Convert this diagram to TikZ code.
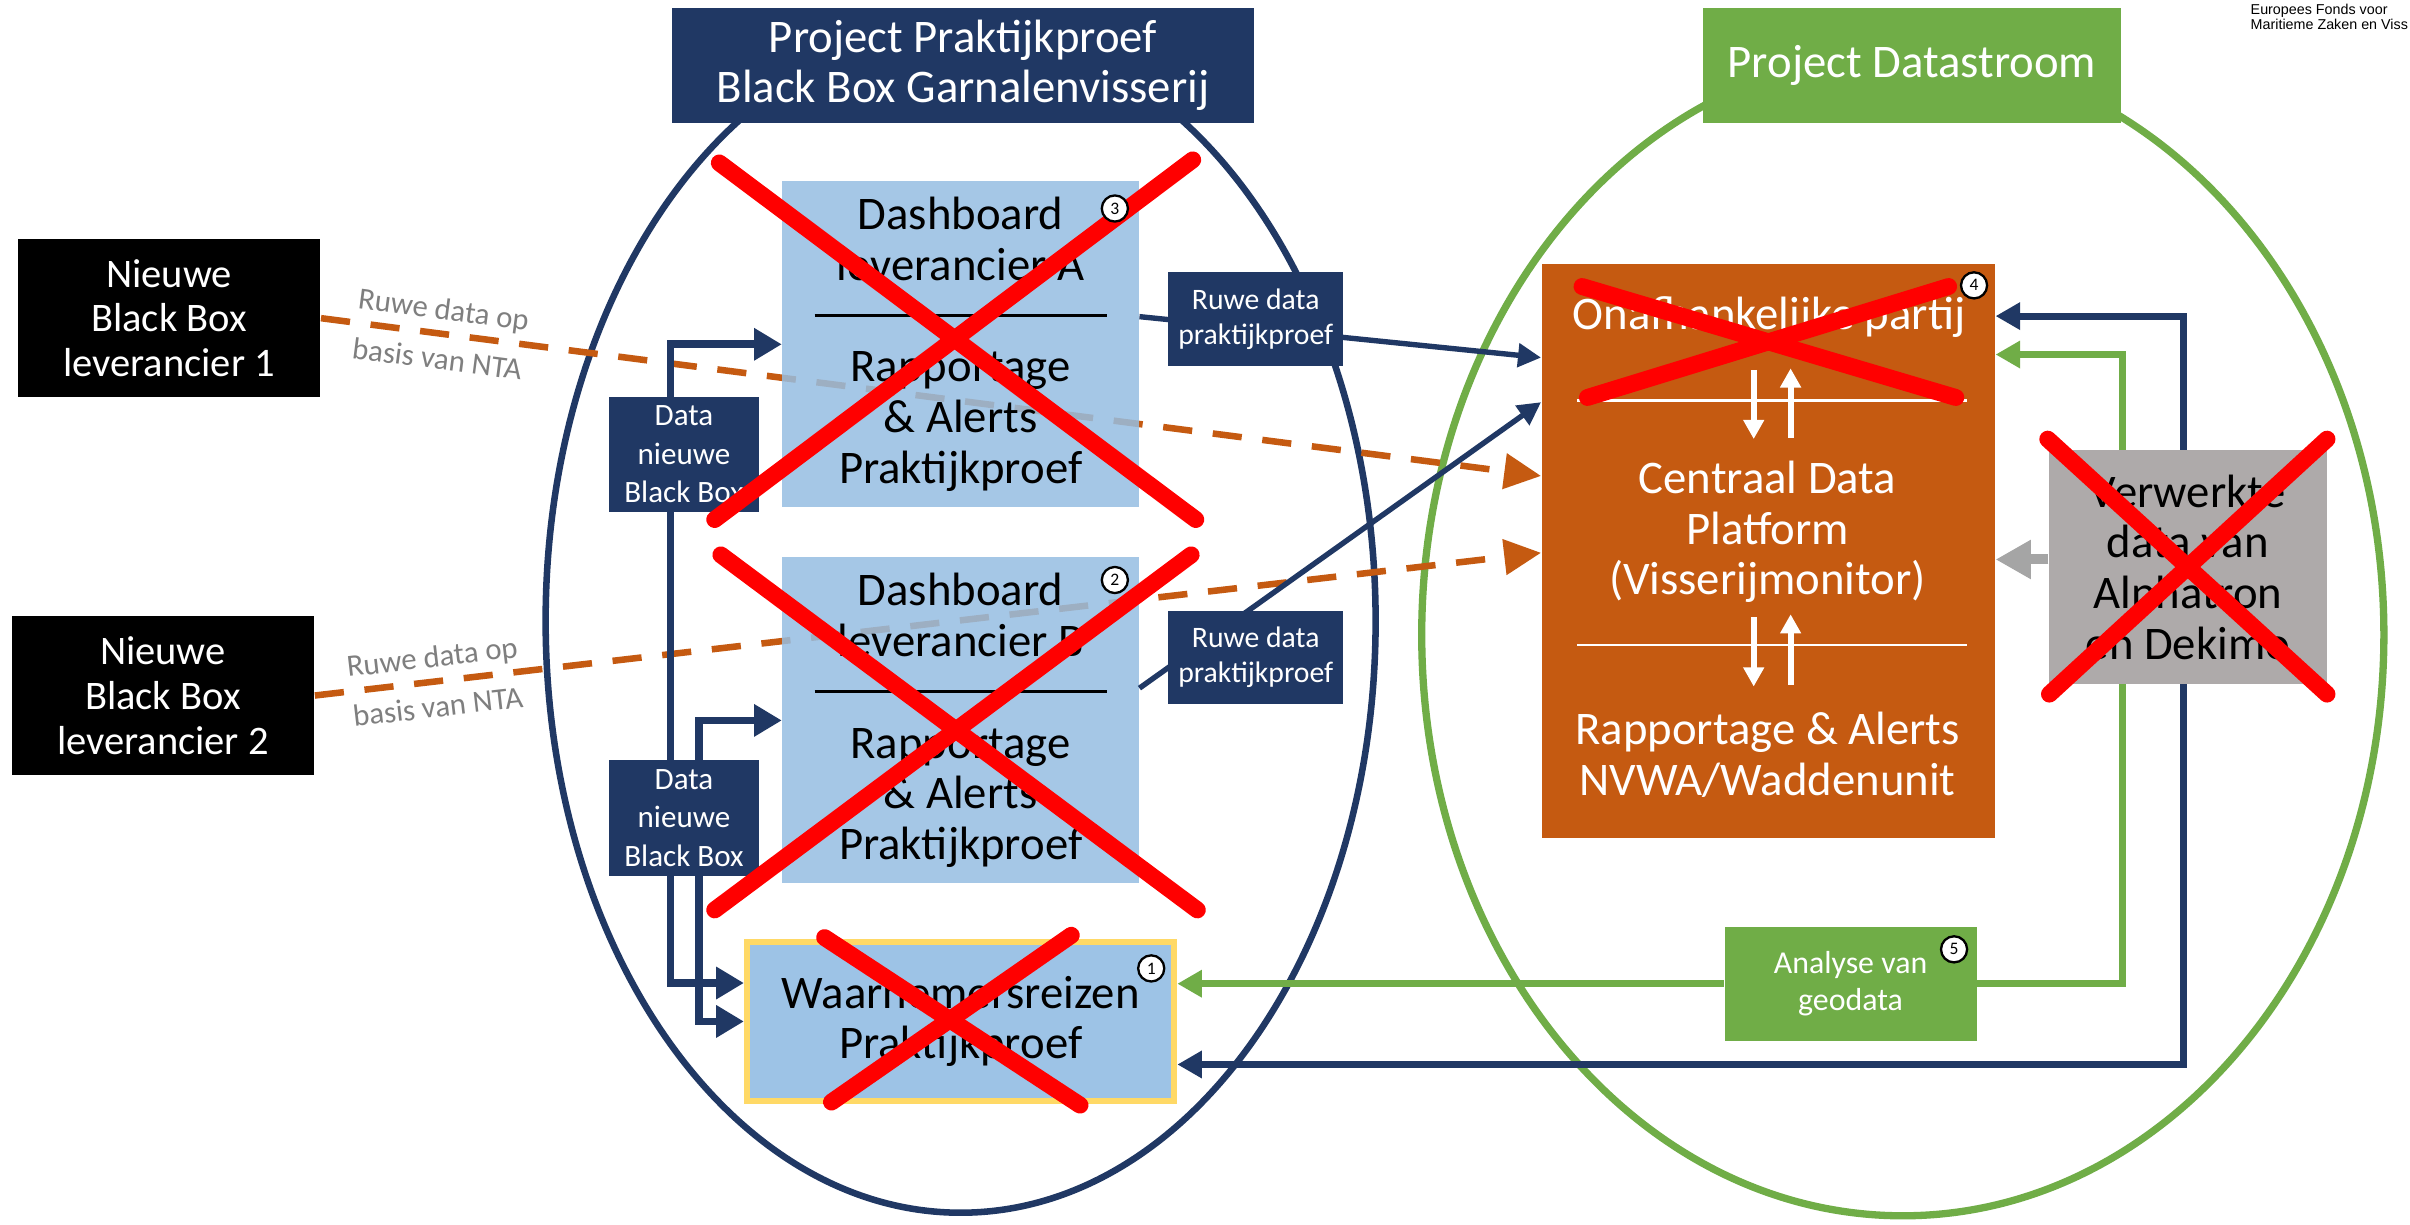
\documentclass[tikz,border=0pt]{standalone}
\usepackage{fontspec}
\setmainfont{Carlito}
\newfontfamily\arialfont{Liberation Sans}
\usetikzlibrary{arrows.meta,positioning}

\definecolor{navy}{HTML}{203864}
\definecolor{ltblue}{HTML}{96BEE2}
\definecolor{boxblue}{HTML}{9DC3E6}
\definecolor{gold}{HTML}{FFD966}
\definecolor{rust}{HTML}{C55A11}
\definecolor{grass}{HTML}{70AD47}
\definecolor{stone}{HTML}{AEAAAA}
\definecolor{pebble}{HTML}{A5A5A5}
\definecolor{note}{HTML}{7F7F7F}

\begin{document}
\begin{tikzpicture}[x=0.2mm, y=-0.2mm,
        every node/.style={inner sep=0pt, align=center},
        bigtext/.style={font=\fontsize{17.3}{18.8}\selectfont},
        header/.style={bigtext, text=white, minimum height=15mm},
        blackbox/.style={fill=black, text=white, minimum width=39.4mm, minimum height=20.6mm, font=\fontsize{15}{16.6}\selectfont},
        dashbox/.style={bigtext, fill=ltblue, fill opacity=0.85, text opacity=1, minimum width=46.4mm, minimum height=42.4mm},
        tag/.style={fill=navy, text=white, font=\fontsize{11.5}{14.2}\selectfont, minimum width=19.6mm, minimum height=15mm},
        rawtag/.style={fill=navy, text=white, font=\fontsize{11}{12.9}\selectfont, minimum width=22.8mm, minimum height=12.2mm},
        ntatext/.style={text=note, font=\fontsize{11.4}{18.6}\selectfont},
        num/.style={circle, draw=black, fill=white, line width=0.3mm, minimum size=3.4mm, font=\fontsize{6.5}{7}\selectfont},
        cross/.style={draw=red, line width=2.2mm, line cap=round},
        nta/.style={draw=rust, line width=0.85mm, dash pattern=on 3.8mm off 2.7mm, -{Triangle[length=4.8mm,width=4.5mm]}},
        feed/.style={draw=navy, line width=1mm, {Triangle[length=3.6mm,width=4mm]}-{Triangle[length=3.6mm,width=4mm]}},
        rawflow/.style={draw=navy, line width=0.7mm, -{Triangle[length=3mm,width=3mm]}},
        backflow/.style={draw=navy, line width=0.9mm, {Triangle[length=3.2mm,width=3.4mm]}-{Triangle[length=3.2mm,width=3.4mm]}},
        greenflow/.style={draw=grass, line width=0.9mm, -{Triangle[length=3.2mm,width=3.4mm]}},
        grayflow/.style={draw=pebble, line width=1.3mm, -{Triangle[length=4.6mm,width=4.8mm]}},
        updown/.style={draw=white, line width=0.8mm, -{Triangle[length=2.5mm,width=2.6mm]}}]
   \useasboundingbox (0,0) rectangle (1568,797);
   \fill[white] (0,0) rectangle (1568,797);
   \clip (0,0) rectangle (1568,797);

   \draw[navy, line width=0.85mm] (625,404) ellipse [x radius=54mm, y radius=77mm];
   \draw[grass, line width=0.95mm] (1238,413) ellipse [x radius=62.6mm, y radius=75.6mm];

   \node[header, fill=navy, minimum width=75.8mm] (H1) at (626.5,42.5) {Project Praktijkproef\\Black Box Garnalenvisserij};
   \node[header, fill=grass, minimum width=54.4mm] (H2) at (1244,42.5) {Project Datastroom};

   \node[blackbox] (B1) at (110,207) {Nieuwe\\Black Box\\leverancier 1};
   \node[blackbox] (B2) at (106,452.5) {Nieuwe\\Black Box\\leverancier 2};

   \node[fill=rust, minimum width=59mm, minimum height=74.6mm] (P) at (1150.5,358.5) {};
   \node[bigtext, text=white] (Ponaf) at (1151,206) {Onafhankelijke partij};
   \node[bigtext, text=white] (Pcdp) at (1150,346) {Centraal Data\\Platform\\(Visserijmonitor)};
   \node[bigtext, text=white] (Prap) at (1150,491) {Rapportage \& Alerts\\NVWA/Waddenunit};
   \draw[white, line width=0.35mm] ([xshift=-24.9mm,yshift=-17.8mm]P.north) -- ++(254,0);
   \draw[white, line width=0.35mm] ([xshift=-24.9mm,yshift=-49.6mm]P.north) -- ++(254,0);
   \draw[updown] ([xshift=-1.9mm,yshift=-13.8mm]P.north) -- ++(0,45);
   \draw[updown] ([xshift=2.9mm,yshift=-22.6mm]P.north) -- ++(0,-45);
   \draw[updown] ([xshift=-1.9mm,yshift=-46mm]P.north) -- ++(0,45);
   \draw[updown] ([xshift=2.9mm,yshift=-54.8mm]P.north) -- ++(0,-46);

   \node[fill=grass, text=white, minimum width=32.8mm, minimum height=14.8mm, font=\fontsize{11.8}{13.9}\selectfont] (G) at (1204,640) {Analyse van\\geodata};

   \draw[nta] (B1.east) -- ([yshift=-27.6mm]P.north west)
      node[pos=0.098, sloped, ntatext] (N1) {Ruwe data op\\basis van NTA};
   \draw[nta] (B2.east) -- ([yshift=-37.6mm]P.north west)
      node[pos=0.098, sloped, ntatext] (N2) {Ruwe data op\\basis van NTA};

   \node[dashbox] (A) at (625,224) {Dashboard\\leverancier A\\\rule[0.3em]{38mm}{0.45mm}\\Rapportage\\\& Alerts\\Praktijkproef};
   \node[dashbox, below=6.4mm of A] (B) {Dashboard\\leverancier B\\\rule[0.3em]{38mm}{0.45mm}\\Rapportage\\\& Alerts\\Praktijkproef};
   \node[bigtext, draw=gold, line width=0.8mm, fill=boxblue, minimum width=55.6mm, minimum height=20.6mm, below=7.2mm of B] (C) {Waarnemersreizen\\Praktijkproef};

   \draw[feed] (A.west) -- ++(-72.5,0) |- ([yshift=5mm]C.west);
   \draw[feed] (B.west) -- ++(-54,0) |- (C.west);
   \draw[rawflow] ([yshift=3.6mm]A.east) -- ([yshift=-12.2mm]P.north west);
   \draw[rawflow] ([yshift=4.2mm]B.east) -- ([yshift=-18mm]P.north west);
   \draw[backflow] ([yshift=-6.8mm]P.north east) -- ++(122,0) |- ([yshift=-5.6mm]C.east);
   \draw[greenflow] (G.west) -- (G.west -| C.east);
   \draw[greenflow] (G.east) -- ++(94.5,0) |- ([yshift=-11.8mm]P.north east);

   \node[bigtext, fill=stone, minimum width=36.2mm, minimum height=30.4mm] (V) at (1423.5,369) {Verwerkte\\data van\\Alphatron\\en Dekimo};
   \draw[grayflow] ([yshift=1mm]V.west) -- ([yshift=1mm]V.west -| P.east);

   \node[tag] (L1) at (445,295.5) {Data\\nieuwe\\Black Box};
   \node[tag, below=32.2mm of L1] (L2) {Data\\nieuwe\\Black Box};
   \node[rawtag] (R1) at (817,207.5) {Ruwe data\\praktijkproef};
   \node[rawtag, below=31.7mm of R1] (R2) {Ruwe data\\praktijkproef};

   \draw[cross] (468,106) -- (778,338);
   \draw[cross] (776,104) -- (465,338);
   \draw[cross] (469,361) -- (779,592);
   \draw[cross] (775,361) -- (465,592);
   \draw[cross] (536.5,610) -- (702.7,719);
   \draw[cross] (697,608.5) -- (541,717);
   \draw[cross] (1029.3,186.4) -- (1272.5,258.6);
   \draw[cross] (1267.8,186.4) -- (1032.8,258.6);
   \draw[cross] (1332.3,285.7) -- (1514,451.6);
   \draw[cross] (1514,285.7) -- (1333.4,451.6);

   \node[num] (n3) at ([shift={(-16,18)}]A.north east) {3};
   \node[num] (n2) at ([shift={(-16,15)}]B.north east) {2};
   \node[num] (n1) at ([shift={(-17,19)}]C.north east) {1};
   \node[num] (n4) at ([shift={(-14,14)}]P.north east) {4};
   \node[num] (n5) at ([shift={(-15,15)}]G.north east) {5};

   \node[anchor=west, align=left, font=\arialfont\fontsize{5.3}{5.6}\selectfont] (efmzv) at (1464,11.2) {Europees Fonds voor\\Maritieme Zaken en Viss};
\end{tikzpicture}
\end{document}
